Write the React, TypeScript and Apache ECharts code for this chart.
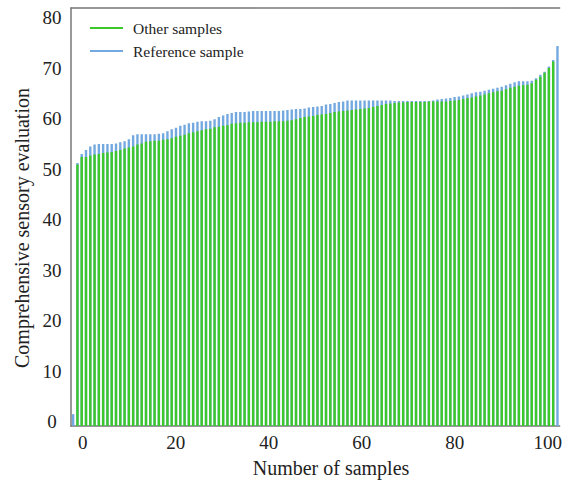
import React, { useEffect, useRef } from "react";
import * as echarts from "echarts";

// Top of the blue bars (reference sample level) for each sample position
const referenceSample: (number | null)[] = [
  1.5,
  51.2, 53.0, 53.8, 54.5, 54.9, 55.0, 55.0, 55.0, 55.0, 55.1,
  55.3, 55.5, 55.9, 56.7, 56.9, 56.9, 56.9, 56.9, 56.9, 57.0,
  57.1, 57.5, 57.9, 58.2, 58.6, 58.8, 59.1, 59.2, 59.4, 59.5,
  59.5, 59.6, 59.9, 60.3, 60.6, 60.9, 61.1, 61.3, 61.3, 61.3,
  61.4, 61.5, 61.5, 61.5, 61.5, 61.5, 61.5, 61.5, 61.6, 61.7,
  61.8, 61.9, 61.9, 62.0, 62.2, 62.3, 62.4, 62.5, 62.8, 62.9,
  63.1, 63.3, 63.4, 63.6, 63.6, 63.6, 63.6, 63.6, 63.6, 63.6,
  63.6, 63.6, 63.6, 63.6, 63.5, 63.5, 63.5, 63.5, 63.5, 63.5,
  63.5, 63.5, 63.5, 63.6, 63.8, 63.9, 64.0, 64.1, 64.3, 64.4,
  64.6, 64.8, 65.0, 65.2, 65.3, 65.5, 65.7, 65.9, 66.1, 66.3,
  66.6, 66.9, 67.2, 67.4, 67.4, 67.4, 67.5, 68.0, 68.7, 69.3,
  70.3, 71.6, 74.4,
];

// Top of the green bars (other samples)
const otherSamples: (number | null)[] = [
  null,
  50.9, 52.4, 52.4, 52.7, 52.9, 53.0, 53.2, 53.3, 53.4, 53.6,
  53.8, 54.1, 54.3, 54.5, 54.9, 55.1, 55.4, 55.5, 55.6, 55.6,
  55.8, 55.9, 56.1, 56.4, 56.6, 56.8, 57.1, 57.3, 57.5, 57.7,
  57.9, 58.0, 58.3, 58.4, 58.6, 58.7, 59.0, 59.1, 59.2, 59.2,
  59.3, 59.3, 59.3, 59.4, 59.4, 59.4, 59.5, 59.5, 59.5, 59.6,
  59.7, 59.9, 60.1, 60.3, 60.4, 60.5, 60.7, 60.8, 60.9, 61.1,
  61.3, 61.4, 61.5, 61.6, 61.7, 61.8, 61.9, 62.0, 62.1, 62.3,
  62.5, 62.7, 62.9, 63.0, 63.1, 63.2, 63.2, 63.3, 63.3, 63.3,
  63.3, 63.3, 63.4, 63.4, 63.4, 63.4, 63.4, 63.5, 63.6, 63.7,
  63.9, 64.1, 64.2, 64.4, 64.6, 64.8, 65.0, 65.2, 65.4, 65.5,
  65.8, 66.1, 66.3, 66.5, 66.6, 66.7, 67.0, 67.7, 68.3, 69.1,
  70.0, 71.3, null,
];

const categories = referenceSample.map((_, i) => String(i));
const xTickLabels = [0, 20, 40, 60, 80, 100];
const yTickLabels = [0, 10, 20, 30, 40, 50, 60, 70, 80];

const FONT = '"Liberation Serif", "Times New Roman", serif';
const AXIS_COLOR = "#777";
const TEXT_COLOR = "#222";
const GREEN = "#3cc82b";
const BLUE = "#74a9e0";

export default function App() {
  const ref = useRef<HTMLDivElement>(null);

  useEffect(() => {
    document.body.style.margin = "0";
    if (!ref.current) return;
    const chart = echarts.init(ref.current, null, { renderer: "svg" });
    const axisLineStyle = { color: AXIS_COLOR, width: 1.5 };
    chart.setOption({
      animation: false,
      backgroundColor: "#fff",
      grid: { left: 71, right: 0, top: 8, bottom: 59 },
      legend: {
        orient: "vertical",
        left: 90,
        top: 20,
        padding: 0,
        icon: "rect",
        itemWidth: 33,
        itemHeight: 2,
        itemGap: 7,
        data: ["Other samples", "Reference sample"],
        textStyle: {
          fontFamily: FONT,
          fontSize: 15.5,
          color: TEXT_COLOR,
          padding: [0, 0, 0, 5],
        },
      },
      xAxis: [
        {
          type: "category",
          data: categories,
          show: false,
        },
        {
          type: "value",
          position: "bottom",
          min: -2.55,
          max: 102.55,
          axisLine: { show: true, onZero: false, lineStyle: axisLineStyle },
          axisTick: { show: false },
          splitLine: { show: false },
          axisLabel: {
            customValues: xTickLabels,
            margin: 7,
            fontFamily: FONT,
            fontSize: 19,
            color: TEXT_COLOR,
          },
        },
        {
          type: "value",
          position: "top",
          min: 0,
          max: 1,
          axisLine: { show: true, onZero: false, lineStyle: axisLineStyle },
          axisTick: { show: false },
          splitLine: { show: false },
          axisLabel: { show: false },
        },
      ],
      yAxis: {
        type: "value",
        min: -0.85,
        max: 81.9,
        startValue: -0.85,
        axisLine: { show: true, onZero: false, lineStyle: axisLineStyle },
        axisTick: { show: false },
        splitLine: { show: false },
        axisLabel: {
          customValues: yTickLabels,
          align: "center",
          margin: 19,
          fontFamily: FONT,
          fontSize: 19,
          color: TEXT_COLOR,
        },
      },
      graphic: [
        {
          type: "text",
          x: 331,
          y: 468,
          style: {
            text: "Number of samples",
            font: `20px ${FONT}`,
            fill: TEXT_COLOR,
            align: "center",
            verticalAlign: "middle",
          },
        },
        {
          type: "text",
          x: 22,
          y: 228,
          rotation: Math.PI / 2,
          style: {
            text: "Comprehensive sensory evaluation",
            font: `20px ${FONT}`,
            fill: TEXT_COLOR,
            align: "center",
            verticalAlign: "middle",
          },
        },
      ],
      series: [
        {
          name: "Reference sample",
          type: "bar",
          xAxisIndex: 0,
          data: referenceSample,
          barWidth: 2.4,
          barGap: "-100%",
          itemStyle: { color: BLUE },
        },
        {
          name: "Other samples",
          type: "bar",
          xAxisIndex: 0,
          data: otherSamples,
          barWidth: 2.4,
          barGap: "-100%",
          itemStyle: { color: GREEN },
        },
      ],
    });
    return () => chart.dispose();
  }, []);

  return <div ref={ref} style={{ width: 565, height: 485 }} />;
}
